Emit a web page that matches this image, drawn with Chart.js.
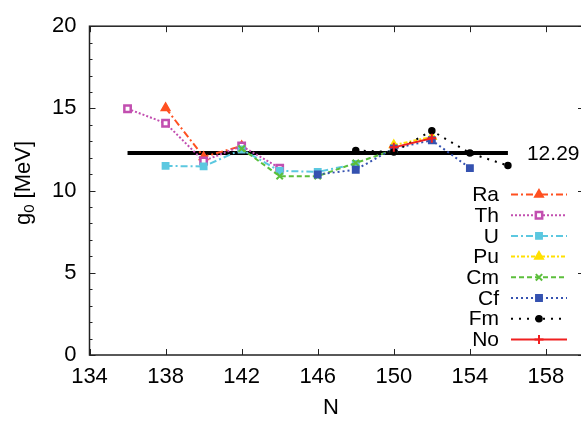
<!DOCTYPE html>
<html>
<head>
<meta charset="utf-8">
<script src="https://cdn.jsdelivr.net/npm/chart.js@4"></script>
<style>
  html, body { margin: 0; padding: 0; background: #fff; overflow: hidden; }
</style>
</head>
<body>
<canvas id="g0Chart" width="600" height="423"></canvas>
<script>
// g0 values, per element (N, g0 in MeV)
const raN = [138, 140, 142];
const raG = [15.03, 12.05, 12.72];
const thN = [136, 138, 140, 142, 144];
const thG = [14.98, 14.1, 11.8, 12.72, 11.37];
const uN = [138, 140, 142, 144, 146, 148];
const uG = [11.5, 11.47, 12.5, 11.2, 11.14, 11.62];
const puN = [150, 152];
const puG = [12.77, 13.27];
const cmN = [142, 144, 146, 148, 150];
const cmG = [12.55, 10.88, 10.88, 11.68, 12.48];
const cfN = [146, 148, 150, 152, 154];
const cfG = [10.98, 11.27, 12.57, 13.06, 11.37];
const fmN = [148, 150, 152, 154, 156];
const fmG = [12.44, 12.35, 13.64, 12.28, 11.52];
const noN = [150, 152];
const noG = [12.63, 13.18];
const meanN = [136, 156];
const meanG = 12.29;
const xTicks = [134, 138, 142, 146, 150, 154, 158];
const yTicks = [0, 5, 10, 15, 20];

const FONT = '"Liberation Sans", Arial, Helvetica, sans-serif';

function pts(ns, gs) {
    return ns.map((n, i) => ({ x: n, y: gs[i] }));
}

function series(label, ns, gs, color, dash, style, radius, order, extra) {
    return Object.assign({
        label: label,
        data: pts(ns, gs),
        borderColor: color,
        backgroundColor: color,
        borderWidth: 2,
        borderDash: dash,
        pointStyle: style,
        pointRadius: radius,
        pointBorderColor: color,
        pointBackgroundColor: color,
        pointBorderWidth: 1.5,
        tension: 0,
        order: order
    }, extra || {});
}

const datasets = [
    series('Ra', raN, raG, '#ff5020', [7, 3, 2, 3], 'triangle', 5, 8),
    series('Th', thN, thG, '#c24fb0', [2, 2], 'rect', 4.5, 7, { pointBackgroundColor: '#fff', pointBorderWidth: 2.5 }),
    series('U', uN, uG, '#5cc8e0', [7, 3, 2, 3], 'rect', 4.5, 6),
    series('Pu', puN, puG, '#ffe000', [4, 2, 2, 2], 'triangle', 5, 5),
    series('Cm', cmN, cmG, '#5cbf3c', [5, 3], 'crossRot', 4.5, 4, { pointBorderWidth: 2 }),
    series('Cf', cfN, cfG, '#3552b0', [2, 3], 'rect', 4.5, 3),
    series('Fm', fmN, fmG, '#000000', [2, 6], 'circle', 3, 2),
    series('No', noN, noG, '#f02020', [], 'cross', 4.5, 1, { pointBorderWidth: 2 }),
    {
        label: 'mean',
        data: meanN.map(n => ({ x: n, y: meanG })),
        borderColor: '#000',
        borderWidth: 4,
        pointRadius: 0,
        order: 9,
        isMean: true
    }
];

const framePlugin = {
    id: 'frame',
    afterDatasetsDraw(chart) {
        const ctx = chart.ctx;
        const a = chart.chartArea;
        const xs = chart.scales.x, ys = chart.scales.y;
        ctx.save();
        ctx.strokeStyle = '#222';
        ctx.lineWidth = 1.5;
        ctx.strokeRect(a.left, a.top, a.right - a.left, a.bottom - a.top);
        ctx.lineWidth = 1;
        ctx.beginPath();
        xTicks.forEach(v => {
            const px = Math.round(xs.getPixelForValue(v)) + 0.5;
            ctx.moveTo(px, a.bottom); ctx.lineTo(px, a.bottom - 6);
            ctx.moveTo(px, a.top); ctx.lineTo(px, a.top + 6);
        });
        for (let v = 0; v <= 20; v++) {
            const py = Math.round(ys.getPixelForValue(v)) + 0.5;
            const len = v % 5 === 0 ? 6 : 3;
            ctx.moveTo(a.left, py); ctx.lineTo(a.left + len, py);
            ctx.moveTo(a.right, py); ctx.lineTo(a.right - len, py);
        }
        ctx.stroke();

        // mean value label
        ctx.fillStyle = '#000';
        ctx.font = '21px ' + FONT;
        ctx.textAlign = 'left';
        ctx.textBaseline = 'middle';
        ctx.fillText(meanG.toFixed(2), xs.getPixelForValue(157), ys.getPixelForValue(meanG) + 1);

        // axis titles
        ctx.font = '22px ' + FONT;
        ctx.textAlign = 'center';
        ctx.fillText('N', 331, 408);
        ctx.save();
        ctx.translate(24, 183);
        ctx.rotate(-Math.PI / 2);
        const big = '22px ' + FONT, small = '15px ' + FONT;
        ctx.font = big;
        const wg = ctx.measureText('g').width;
        const wr = ctx.measureText(' [MeV]').width;
        ctx.font = small;
        const w0 = ctx.measureText('0').width;
        let x0 = -(wg + w0 + wr) / 2;
        ctx.textAlign = 'left';
        ctx.font = big;
        ctx.fillText('g', x0, 0);
        ctx.font = small;
        ctx.fillText('0', x0 + wg, 6);
        ctx.font = big;
        ctx.fillText(' [MeV]', x0 + wg + w0, 0);
        ctx.restore();

        // legend: text then line sample
        let row = 0;
        chart.data.datasets.forEach(ds => {
            if (ds.isMean) return;
            const y = 194.5 + row * 20.7;
            ctx.font = '21px ' + FONT;
            ctx.textAlign = 'right';
            ctx.textBaseline = 'middle';
            ctx.fillStyle = '#000';
            ctx.fillText(ds.label, 499, y + 1);
            ctx.strokeStyle = ds.borderColor;
            ctx.lineWidth = ds.borderWidth;
            ctx.setLineDash(ds.borderDash);
            ctx.beginPath();
            ctx.moveTo(511, y); ctx.lineTo(567, y);
            ctx.stroke();
            ctx.setLineDash([]);
            ctx.fillStyle = ds.pointBackgroundColor;
            ctx.strokeStyle = ds.pointBorderColor;
            ctx.lineWidth = ds.pointBorderWidth;
            Chart.helpers.drawPoint(ctx, { pointStyle: ds.pointStyle, radius: ds.pointRadius, rotation: 0, borderWidth: ds.pointBorderWidth }, 539, y);
            row++;
        });
        ctx.restore();
    }
};

const chart = new Chart(document.getElementById('g0Chart'), {
    type: 'line',
    data: { datasets: datasets },
    options: {
        responsive: false,
        animation: false,
        events: [],
        layout: { padding: { top: 12, right: 16, left: 0, bottom: 0 } },
        plugins: {
            legend: { display: false },
            tooltip: { enabled: false }
        },
        scales: {
            x: {
                type: 'linear',
                min: 134,
                max: 160,
                afterBuildTicks: s => { s.ticks = xTicks.map(v => ({ value: v })); },
                afterFit: s => { s.height = 68; },
                grid: { display: false, drawTicks: false },
                border: { display: false },
                ticks: {
                    color: '#000',
                    padding: 9,
                    maxRotation: 0,
                    autoSkip: false,
                    font: { size: 22, family: FONT }
                }
            },
            y: {
                type: 'linear',
                min: 0,
                max: 20,
                afterBuildTicks: s => { s.ticks = yTicks.map(v => ({ value: v })); },
                afterFit: s => { s.width = 89.5; },
                grid: { display: false, drawTicks: false },
                border: { display: false },
                ticks: {
                    color: '#000',
                    padding: 13,
                    font: { size: 22, family: FONT }
                }
            }
        }
    },
    plugins: [framePlugin]
});
</script>
</body>
</html>
